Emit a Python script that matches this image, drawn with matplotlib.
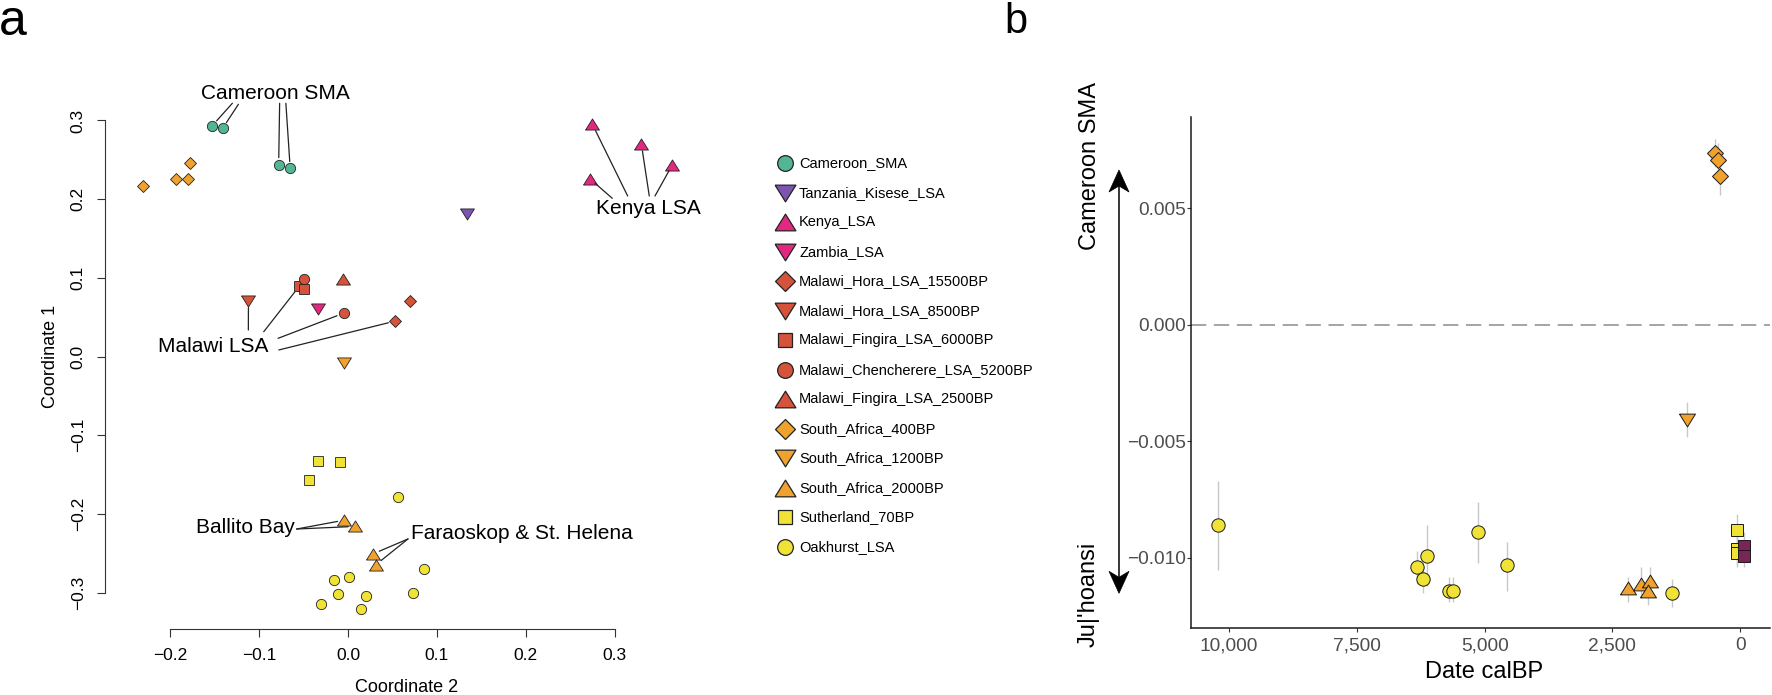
import numpy as np
import matplotlib.pyplot as plt
from matplotlib.patches import Polygon
from matplotlib.lines import Line2D

plt.rcParams['font.family'] = ['Liberation Sans', 'DejaVu Sans']

W, H = 1772, 695

# ---- panel a: MDS, coordinate 2 on x, coordinate 1 on y
cameroon_x = [-0.153, -0.141, -0.078, -0.065]
cameroon_y = [0.293, 0.290, 0.244, 0.239]
tanzania_x = [0.134]
tanzania_y = [0.181]
kenya_x = [0.275, 0.272, 0.330, 0.365]
kenya_y = [0.295, 0.226, 0.270, 0.244]
zambia_x = [-0.034]
zambia_y = [0.060]
hora15500_x = [0.070, 0.053]
hora15500_y = [0.071, 0.045]
hora8500_x = [-0.112]
hora8500_y = [0.071]
fingira6000_x = [-0.055, -0.049]
fingira6000_y = [0.089, 0.086]
chencherere_x = [-0.049, -0.005]
chencherere_y = [0.098, 0.055]
fingira2500_x = [-0.006]
fingira2500_y = [0.098]
sa400_x = [-0.231, -0.194, -0.180, -0.178]
sa400_y = [0.217, 0.226, 0.225, 0.246]
sa1200_x = [-0.005]
sa1200_y = [-0.008]
sa2000_x = [-0.004, 0.008, 0.028, 0.031]
sa2000_y = [-0.208, -0.216, -0.251, -0.265]
sutherland_x = [-0.034, -0.009, -0.044]
sutherland_y = [-0.133, -0.134, -0.157]
oakhurst_x = [0.056, -0.016, 0.001, -0.011, 0.020, -0.030, 0.015, 0.073, 0.085]
oakhurst_y = [-0.178, -0.284, -0.280, -0.302, -0.304, -0.315, -0.321, -0.301, -0.270]

# ---- panel b: f4 statistic vs date
b_sa400_date = [500, 440, 395]
b_sa400_val = [0.0074, 0.0071, 0.0064]
b_sa400_lo = [0.0068, 0.0064, 0.0056]
b_sa400_hi = [0.0080, 0.0078, 0.0070]
b_sa1200_date = [1050]
b_sa1200_val = [-0.0041]
b_sa1200_lo = [-0.0048]
b_sa1200_hi = [-0.0033]
b_sa2000_date = [2200, 1940, 1770, 1800]
b_sa2000_val = [-0.0113, -0.0111, -0.0110, -0.0114]
b_sa2000_lo = [-0.0119, -0.0117, -0.0116, -0.0120]
b_sa2000_hi = [-0.0108, -0.0104, -0.0104, -0.0108]
b_suth_date = [70, 70, 70]
b_suth_val = [-0.0088, -0.0096, -0.0098]
b_suth_lo = [-0.0095, -0.0103, -0.0104]
b_suth_hi = [-0.0081, -0.0089, -0.0091]
b_oak_date = [10210, 6330, 6120, 6200, 5690, 5620, 5130, 4560, 1340]
b_oak_val = [-0.0086, -0.0104, -0.0099, -0.0109, -0.0114, -0.0114, -0.0089, -0.0103, -0.0115]
b_oak_lo = [-0.0105, -0.0111, -0.0112, -0.0115, -0.0119, -0.0119, -0.0102, -0.0114, -0.0121]
b_oak_hi = [-0.0067, -0.0097, -0.0086, -0.0104, -0.0108, -0.0108, -0.0076, -0.0093, -0.0109]
b_mod_date = [-70, -70]
b_mod_val = [-0.0095, -0.0099]
b_mod_lo = [-0.0101, -0.0104]
b_mod_hi = [-0.0089, -0.0093]

TEAL = '#52B596'
PURPLE = '#7B55B0'
PINK = '#E2297F'
RED = '#D4533A'
ORANGE = '#F0A22F'
YELLOW = '#F1E236'
MAROON = '#7B2457'

TRI_UP = [(-1, -0.8), (1, -0.8), (0, 0.8), (-1, -0.8)]
TRI_DN = [(-1, 0.8), (1, 0.8), (0, -0.8), (-1, 0.8)]

# name, x, y, marker, colour
groups = [
    ('Cameroon_SMA', cameroon_x, cameroon_y, 'o', TEAL),
    ('Tanzania_Kisese_LSA', tanzania_x, tanzania_y, 'v', PURPLE),
    ('Kenya_LSA', kenya_x, kenya_y, '^', PINK),
    ('Zambia_LSA', zambia_x, zambia_y, 'v', PINK),
    ('Malawi_Hora_LSA_15500BP', hora15500_x, hora15500_y, 'D', RED),
    ('Malawi_Hora_LSA_8500BP', hora8500_x, hora8500_y, 'v', RED),
    ('Malawi_Fingira_LSA_6000BP', fingira6000_x, fingira6000_y, 's', RED),
    ('Malawi_Chencherere_LSA_5200BP', chencherere_x, chencherere_y, 'o', RED),
    ('Malawi_Fingira_LSA_2500BP', fingira2500_x, fingira2500_y, '^', RED),
    ('South_Africa_400BP', sa400_x, sa400_y, 'D', ORANGE),
    ('South_Africa_1200BP', sa1200_x, sa1200_y, 'v', ORANGE),
    ('South_Africa_2000BP', sa2000_x, sa2000_y, '^', ORANGE),
    ('Sutherland_70BP', sutherland_x, sutherland_y, 's', YELLOW),
    ('Oakhurst_LSA', oakhurst_x, oakhurst_y, 'o', YELLOW),
]

def mk(m):
    return {'^': TRI_UP, 'v': TRI_DN}.get(m, m)

size_a = {'o': 7.4, 's': 6.6, 'D': 5.7, '^': 10, 'v': 10}
size_leg = {'o': 11.3, 's': 10, 'D': 10, '^': 15, 'v': 15}
size_b = {'o': 9.6, 's': 8.6, 'D': 7.8, '^': 11.5, 'v': 11.5}

def fx(px):
    return px / W

def fy(py):
    return 1 - py / H

fig = plt.figure(figsize=(W / 100, H / 100), dpi=100)

# ================= panel a =================
ax = fig.add_axes([fx(104.8), fy(628.7), fx(640) - fx(104.8), fy(80) - fy(628.7)])
ax.set_xlim(-0.27357, 0.32846)
ax.set_ylim(-0.346, 0.35147)
for name, xs, ys, m, c in groups:
    ax.plot(xs, ys, ls='none', marker=mk(m), ms=size_a[m], mfc=c, mec='#222222',
            mew=0.6, clip_on=False, zorder=3)

for s in ['top', 'right']:
    ax.spines[s].set_visible(False)
ax.spines['left'].set_bounds(-0.3, 0.3)
ax.spines['bottom'].set_bounds(-0.2, 0.3)
for s in ['left', 'bottom']:
    ax.spines[s].set_color('#333333')
    ax.spines[s].set_linewidth(0.8)
xt = [-0.2, -0.1, 0.0, 0.1, 0.2, 0.3]
yt = [-0.3, -0.2, -0.1, 0.0, 0.1, 0.2, 0.3]
ax.set_xticks(xt)
ax.set_xticklabels([f'{v:.1f}'.replace('-', '\u2212') for v in xt])
ax.set_yticks(yt)
ax.set_yticklabels([f'{v:.1f}'.replace('-', '\u2212') for v in yt], rotation=90, va='center')
ax.tick_params(length=5.8, width=0.8, color='#333333', labelsize=12.5, pad=8)
fig.text(fx(407), fy(688), 'Coordinate 2', ha='center', va='center', fontsize=13)
fig.text(fx(50.4), fy(356.5), 'Coordinate 1', ha='center', va='center', fontsize=13, rotation=90)

# callout labels: text, position, alignment, [(anchor, xs, ys, index)]
callouts = [
    ('Cameroon SMA', (-0.0816, 0.3346), 'center',
     [((-0.130, 0.322), cameroon_x, cameroon_y, 0),
      ((-0.1233, 0.3206), cameroon_x, cameroon_y, 1),
      ((-0.0769, 0.3219), cameroon_x, cameroon_y, 2),
      ((-0.0699, 0.3219), cameroon_x, cameroon_y, 3)]),
    ('Malawi LSA', (-0.1512, 0.0133), 'center',
     [((-0.1121, 0.0337), hora8500_x, hora8500_y, 0),
      ((-0.0948, 0.0315), fingira6000_x, fingira6000_y, 0),
      ((-0.0787, 0.0231), chencherere_x, chencherere_y, 1),
      ((-0.0778, 0.0083), hora15500_x, hora15500_y, 1)]),
    ('Kenya LSA', (0.3375, 0.1884), 'center',
     [((0.3146, 0.2040), kenya_x, kenya_y, 0),
      ((0.2973, 0.2011), kenya_x, kenya_y, 1),
      ((0.3389, 0.2040), kenya_x, kenya_y, 2),
      ((0.3453, 0.2040), kenya_x, kenya_y, 3)]),
    ('Ballito Bay', (-0.1156, -0.2176), 'center',
     [((-0.0578, -0.2193), sa2000_x, sa2000_y, 0),
      ((-0.0578, -0.2193), sa2000_x, sa2000_y, 1)]),
    ('Faraoskop & St. Helena', (0.0711, -0.2247), 'left',
     [((0.0675, -0.2319), sa2000_x, sa2000_y, 2),
      ((0.0675, -0.2319), sa2000_x, sa2000_y, 3)]),
]
for txt, pos, ha, lines in callouts:
    ax.text(pos[0], pos[1], txt, ha=ha, va='center', fontsize=15, clip_on=False)
    for anchor, xs, ys, i in lines:
        ax.annotate('', xy=(xs[i], ys[i]), xytext=anchor, annotation_clip=False,
                    arrowprops=dict(arrowstyle='-', color='#222222', lw=0.9,
                                    shrinkA=0, shrinkB=5))

# legend
leg_y0, leg_step = 163.3, 29.5
for k, (name, xs, ys, m, c) in enumerate(groups):
    yy = fy(leg_y0 + k * leg_step)
    fig.add_artist(Line2D([fx(785)], [yy], ls='none', marker=mk(m), ms=size_leg[m],
                          mfc=c, mec='#222222', mew=0.9, transform=fig.transFigure))
    fig.text(fx(799), yy, name, ha='left', va='center', fontsize=10.5)

# ================= panel b =================
bx = fig.add_axes([fx(1190.6), fy(628.3), fx(1770) - fx(1190.6), fy(116.7) - fy(628.3)])
bx.set_xlim(10751, -583)
bx.set_ylim(-0.01302, 0.00894)
bx.axhline(0, color='#8C8C8C', lw=1.1, dashes=(10, 5), zorder=1)

b_groups = [
    (b_oak_date, b_oak_val, b_oak_lo, b_oak_hi, 'o', YELLOW),
    (b_sa2000_date, b_sa2000_val, b_sa2000_lo, b_sa2000_hi, '^', ORANGE),
    (b_sa1200_date, b_sa1200_val, b_sa1200_lo, b_sa1200_hi, 'v', ORANGE),
    (b_sa400_date, b_sa400_val, b_sa400_lo, b_sa400_hi, 'D', ORANGE),
    (b_suth_date, b_suth_val, b_suth_lo, b_suth_hi, 's', YELLOW),
    (b_mod_date, b_mod_val, b_mod_lo, b_mod_hi, 's', MAROON),
]
for d, v, lo, hi, m, c in b_groups:
    bx.vlines(d, lo, hi, color='#C8C8C8', lw=1.0, zorder=2)
for d, v, lo, hi, m, c in b_groups:
    bx.plot(d, v, ls='none', marker=mk(m), ms=size_b[m], mfc=c, mec='#1A1A1A',
            mew=0.7, zorder=3, clip_on=False)

for s in ['top', 'right']:
    bx.spines[s].set_visible(False)
for s in ['left', 'bottom']:
    bx.spines[s].set_color('#1A1A1A')
    bx.spines[s].set_linewidth(1.1)
bxt = [10000, 7500, 5000, 2500, 0]
byt = [-0.010, -0.005, 0.000, 0.005]
bx.set_xticks(bxt)
bx.set_xticklabels([f'{v:,}' for v in bxt])
bx.set_yticks(byt)
bx.set_yticklabels([f'{v:.3f}'.replace('-', '\u2212') if v != 0 else '0.000' for v in byt])
bx.tick_params(length=2.6, width=0.8, color='#333333', labelcolor='#4D4D4D', labelsize=13.8)
bx.tick_params(axis='y', pad=1)
bx.tick_params(axis='x', pad=4)
fig.text(fx(1484.3), fy(671.7), 'Date calBP', ha='center', va='center', fontsize=17)

# direction arrow
ax_x, tip_top, tip_bot = 1119, 170, 593.3
fig.add_artist(Line2D([fx(ax_x), fx(ax_x)], [fy(tip_top + 15), fy(tip_bot - 15)],
                      color='black', lw=1.1, transform=fig.transFigure))
for tip, sgn in [(tip_top, 1), (tip_bot, -1)]:
    pts = [(ax_x, tip), (ax_x - 10, tip + sgn * 22), (ax_x, tip + sgn * 16), (ax_x + 10, tip + sgn * 22)]
    fig.add_artist(Polygon([(fx(p), fy(q)) for p, q in pts], closed=True, fc='black',
                           ec='black', lw=0.5, transform=fig.transFigure))
fig.text(fx(1090), fy(166), 'Cameroon SMA', rotation=90, ha='center', va='center', fontsize=17)
fig.text(fx(1088.3), fy(594), "Ju|'hoansi", rotation=90, ha='center', va='center', fontsize=17)

# panel letters
fig.text(fx(-1), fy(35), 'a', ha='left', va='baseline', fontsize=36)
fig.text(fx(1004), fy(33.3), 'b', ha='left', va='baseline', fontsize=30)

fig.savefig('out.png', dpi=100)
